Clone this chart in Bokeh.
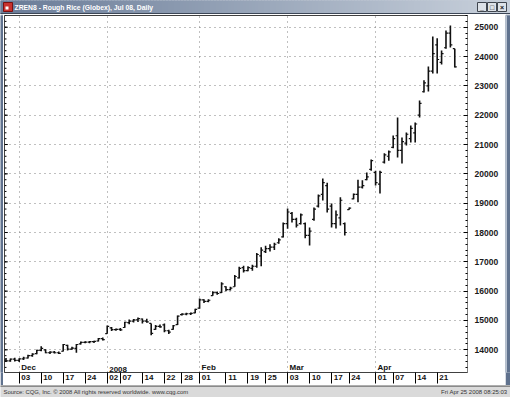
import numpy as np
from bokeh.plotting import figure
from bokeh.models import FixedTicker, Range1d, ColumnDataSource
from bokeh.layouts import column, row
from bokeh.embed import file_html
from bokeh.resources import INLINE
from bokeh.core.properties import value

# ---------------- data ----------------
dates = (["2007-11-28", "2007-11-29", "2007-11-30"] +
         ["2007-12-%02d" % d for d in [3, 4, 5, 6, 7, 10, 11, 12, 13, 14, 17, 18, 19, 20, 21, 24, 26, 27, 28, 31]] +
         ["2008-01-%02d" % d for d in [2, 3, 4, 7, 8, 9, 10, 11, 14, 15, 16, 17, 18, 22, 23, 24, 25, 28, 29, 30, 31]] +
         ["2008-02-%02d" % d for d in [1, 4, 5, 6, 7, 8, 11, 12, 13, 14, 15, 19, 20, 21, 22, 25, 26, 27, 28, 29]] +
         ["2008-03-%02d" % d for d in [3, 4, 5, 6, 7, 10, 11, 12, 13, 14, 17, 18, 19, 20, 24, 25, 26, 27, 28, 31]] +
         ["2008-04-%02d" % d for d in [1, 2, 3, 4, 7, 8, 9, 10, 11, 14, 15, 16, 17, 18, 21, 22, 23, 24, 25]])

opens = [13650, 13620, 13680, 13640, 13690, 13720, 13800, 13870, 13980, 14000,
         13900, 13920, 13900, 13950, 14150, 14020, 14050, 14200, 14250, 14260,
         14280, 14300, 14380, 14550, 14750, 14690, 14700, 14760, 14930, 14980,
         15020, 15050, 14980, 14900, 14700, 14800, 14850, 14650, 14700, 14860,
         15200, 15220, 15230, 15260, 15420, 15700, 15650, 15850, 15950, 15950,
         16150, 16050, 16150, 16450, 16800, 16700, 16780, 16850, 17200, 17350,
         17450, 17500, 17650, 17850, 18300, 18650, 18450, 18300, 18300, 17900,
         18450, 18900, 19300, 19600, 18900, 18300, 18500, 18300, 18780, 19150,
         19300, 19550, 19800, 20150, 20050, 19650, 20400, 20600, 20900, 21300,
         20800, 21050, 21200, 21400, 22000, 22800, 23000, 23500, 24400, 23800,
         24300, 24800, 24270]
highs = [13720, 13700, 13730, 13710, 13760, 13830, 13880, 14000, 14120, 14020,
         13950, 13960, 13940, 14200, 14170, 14100, 14200, 14280, 14290, 14300,
         14310, 14400, 14420, 14830, 14780, 14730, 14740, 14960, 15030, 15050,
         15100, 15070, 15060, 14900, 14850, 14860, 14900, 14680, 14850, 15170,
         15250, 15260, 15270, 15400, 15750, 15720, 15720, 16000, 15990, 16300,
         16170, 16150, 16550, 16830, 16870, 16850, 16900, 17300, 17500, 17550,
         17600, 17650, 17800, 18340, 18820, 18700, 18500, 18650, 18340, 18170,
         18850, 19300, 19840, 19700, 18990, 18750, 19200, 18340, 18850, 19330,
         19800, 19780, 20050, 20490, 20110, 20110, 20700, 20800, 21310, 21920,
         21240, 21410, 21650, 21750, 22500, 23190, 23660, 24680, 24620, 24210,
         24890, 25060, 24270]
lows = [13580, 13590, 13600, 13580, 13650, 13700, 13760, 13850, 13950, 13880,
        13860, 13870, 13860, 13940, 13980, 14000, 13900, 14180, 14220, 14220,
        14230, 14280, 14320, 14550, 14640, 14650, 14640, 14750, 14870, 14930,
        14950, 14900, 14920, 14500, 14680, 14750, 14600, 14540, 14680, 14850,
        15170, 15180, 15190, 15250, 15400, 15600, 15620, 15840, 15880, 15940,
        16000, 16020, 16150, 16430, 16640, 16680, 16700, 16800, 16850, 17300,
        17350, 17400, 17620, 17830, 18130, 18340, 18170, 18270, 17800, 17560,
        18400, 18850, 19090, 18680, 18170, 18140, 18240, 17900, 18780, 19130,
        19030, 19500, 19780, 20110, 19600, 19330, 20350, 20450, 20870, 20560,
        20350, 20970, 21070, 21070, 21920, 22770, 22810, 23420, 23420, 23730,
        24270, 24310, 23630]
closes = [13620, 13680, 13640, 13690, 13720, 13800, 13850, 13980, 14050, 13900,
          13920, 13900, 13880, 14180, 14020, 14060, 14180, 14250, 14260, 14280,
          14290, 14380, 14350, 14800, 14690, 14700, 14680, 14940, 14980, 15020,
          15060, 14980, 14950, 14560, 14800, 14780, 14650, 14600, 14820, 15150,
          15220, 15230, 15240, 15380, 15700, 15650, 15690, 15950, 15920, 16250,
          16050, 16100, 16500, 16780, 16700, 16800, 16850, 17250, 17400, 17450,
          17500, 17600, 17750, 18300, 18700, 18450, 18250, 18600, 17900, 18050,
          18800, 19250, 19700, 18800, 18300, 18600, 19100, 18000, 18830, 19300,
          19550, 19600, 19900, 20450, 19700, 20050, 20650, 20750, 21200, 20800,
          21100, 21350, 21550, 21700, 22400, 23100, 23500, 24100, 23900, 24100,
          24800, 24400, 23650]

day_tick_idx = [3, 8, 13, 18, 23, 26, 31, 36, 40, 44, 50, 55, 59, 64, 69, 74, 78, 84, 88, 93, 98]
day_tick_labels = ["03", "10", "17", "24", "02", "07", "14", "22", "28", "01", "11",
                   "19", "25", "03", "10", "17", "24", "01", "07", "14", "21"]
month_idx = [3, 23, 44, 64, 84]
month_labels = ["Dec", "2008", "Feb", "Mar", "Apr"]
price_ticks = list(range(14000, 25001, 1000))
price_minor = list(range(13400, 25401, 200))

title_text = "ZREN8 - Rough Rice (Globex), Jul 08, Daily"
source_text = "Source: CQG, Inc. \u00a9 2008 All rights reserved worldwide. www.cqg.com"
stamp_text = "Fri Apr 25 2008 08:25:03"

Y_LO, Y_HI = 13226, 25400
X_LO, X_HI = -0.34, 104.89
FONT = "Liberation Sans"
FRAME = "#60728e"

# ---------------- main chart ----------------
idx = np.arange(len(dates))
src = ColumnDataSource(dict(x=idx, xl=idx - 0.45, xr=idx + 0.45,
                            o=opens, h=highs, l=lows, c=closes))

p = figure(width=502, height=371, x_range=Range1d(X_LO, X_HI), y_range=Range1d(Y_LO, Y_HI),
           output_backend="svg", toolbar_location=None,
           x_axis_location="below", y_axis_location="right",
           min_border_left=1, min_border_right=38, min_border_top=1, min_border_bottom=13)
p.background_fill_color = "white"
p.border_fill_color = "white"
p.outline_line_color = "#404040"

# grids
p.xgrid.ticker = FixedTicker(ticks=month_idx)
p.ygrid.ticker = FixedTicker(ticks=price_ticks)
for g in (p.xgrid[0], p.ygrid[0]):
    g.grid_line_color = "#808080"
    g.grid_line_dash = "1 4"
    g.grid_line_width = 1

# bottom (day) axis: separators as minor ticks, labels right of them
xa = p.xaxis[0]
xa.ticker = FixedTicker(ticks=[i + 1.5 for i in day_tick_idx], minor_ticks=day_tick_idx)
xa.major_label_overrides = {i + 1.5: lab for i, lab in zip(day_tick_idx, day_tick_labels)}
xa.major_tick_line_color = None
xa.major_tick_in = 0
xa.major_tick_out = 0
xa.minor_tick_in = 0
xa.minor_tick_out = 11
xa.minor_tick_line_color = "#000000"
xa.axis_line_color = "#404040"
xa.major_label_standoff = -9
xa.major_label_text_font = FONT
xa.major_label_text_font_size = "8px"
xa.major_label_text_font_style = "bold"
xa.major_label_text_color = "#111111"

# right price axis
ya = p.yaxis[0]
ya.ticker = FixedTicker(ticks=price_ticks, minor_ticks=price_minor)
ya.major_tick_in = 4
ya.major_tick_out = 0
ya.minor_tick_in = 2
ya.minor_tick_out = 0
ya.major_tick_line_color = "#000000"
ya.minor_tick_line_color = "#000000"
ya.axis_line_color = "#808080"
ya.major_label_standoff = 7
ya.major_label_text_font = FONT
ya.major_label_text_font_size = "8.5px"
ya.major_label_text_font_style = "bold"
ya.major_label_text_color = "#1a1a1a"

# left edge ticks (mirror of the price scale, no labels)
n_min = len(price_minor)
p.segment(x0=[X_LO] * n_min, y0=price_minor, x1=[X_LO + 0.45] * n_min, y1=price_minor,
          line_color="#000000", line_width=1)
n_maj = len(price_ticks)
p.segment(x0=[X_LO] * n_maj, y0=price_ticks, x1=[X_LO + 0.75] * n_maj, y1=price_ticks,
          line_color="#000000", line_width=1)

# month labels inside the plot bottom
p.text(x=month_idx, y=[Y_LO] * len(month_idx), text=month_labels,
       text_align="left", text_baseline="bottom", x_offset=2, y_offset=-1,
       text_font=value(FONT), text_font_size="8px", text_font_style="bold",
       text_color="#111111")

# OHLC bars
p.segment(x0="x", y0="l", x1="x", y1="h", source=src, line_color="#111111", line_width=1.6)
p.segment(x0="xl", y0="o", x1="x", y1="o", source=src, line_color="#111111", line_width=1.2)
p.segment(x0="x", y0="c", x1="xr", y1="c", source=src, line_color="#111111", line_width=1.2)


def deco(w, h, bg):
    f = figure(width=w, height=h, x_range=Range1d(0, w), y_range=Range1d(0, h),
               output_backend="svg", toolbar_location=None,
               x_axis_location=None, y_axis_location=None, min_border=0)
    f.background_fill_color = bg
    f.border_fill_color = bg
    f.outline_line_color = None
    f.grid.visible = False
    return f


# ---------------- title bar ----------------
tb = deco(510, 14, "#8f9db1")
gx = np.arange(0, 510, 3)
t = gx / 510.0
c0 = np.array([0x6a, 0x7c, 0x98])
c1 = np.array([0xc9, 0xd1, 0xdc])
cols = ["#%02x%02x%02x" % tuple((c0 + (c1 - c0) * tt).astype(int)) for tt in t]
tb.quad(left=gx, right=gx + 3, bottom=1, top=14, color=cols)
tb.quad(left=[0], right=[510], bottom=[0], top=[1], color="#3c4656")
tb.quad(left=[3], right=[12], bottom=[3], top=[12], fill_color="#c8322e", line_color="#7a1010")
tb.quad(left=[5], right=[8], bottom=[5], top=[8], fill_color="white", line_color=None)
tb.text(x=[14], y=[7.5], text=[title_text], text_baseline="middle", text_align="left",
        text_font=value(FONT), text_font_size="6.8px", text_font_style="bold", text_color="white")
bx = [477, 487, 497]
tb.quad(left=bx, right=[b + 9 for b in bx], bottom=3, top=12,
        fill_color="#dde2e8", line_color="#40464f")
tb.text(x=[b + 4.5 for b in bx], y=[7.5] * 3, text=["_", "\u25a1", "\u00d7"],
        text_align="center", text_baseline="middle", text_font=value(FONT),
        text_font_size="7px", text_font_style="bold", text_color="#111111")

# ---------------- side strips ----------------
ls = deco(3, 371, FRAME)
rs = deco(5, 371, FRAME)
rs.quad(left=[0], right=[1], bottom=[0], top=[371], color="#b8c2d0")

# ---------------- footer ----------------
ft = deco(510, 12, "#dadada")
ft.quad(left=[0], right=[510], bottom=[11], top=[12], color="#8a8a8a")
ft.text(x=[3], y=[5.5], text=[source_text], text_align="left", text_baseline="middle",
        text_font=value(FONT), text_font_size="5.9px", text_color="#333333")
ft.text(x=[507], y=[5.5], text=[stamp_text], text_align="right", text_baseline="middle",
        text_font=value(FONT), text_font_size="6px", text_color="#333333")

layout = column(tb, row(ls, p, rs, spacing=0), ft, spacing=0)
open("out.html", "w").write(file_html(layout, INLINE))
